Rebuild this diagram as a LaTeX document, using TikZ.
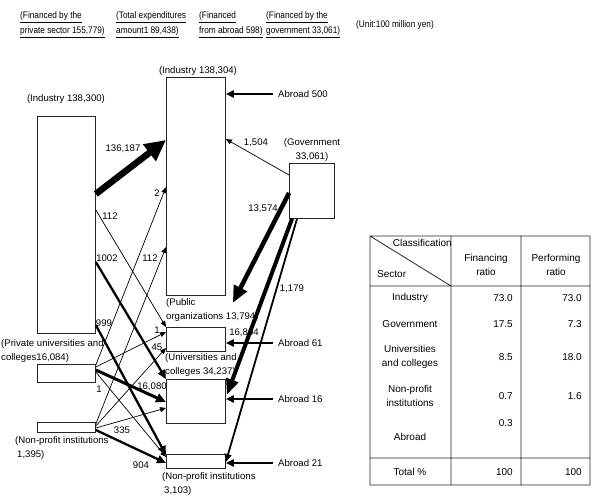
\documentclass[tikz,border=0pt]{standalone}
\usepackage{fontspec}
\setmainfont{Liberation Sans}
\newfontfamily\hdfont{Liberation Sans}[FakeStretch=0.87]
\usetikzlibrary{arrows.meta}
\newcommand\lblfont{\fontsize{9.6}{14.5}\selectfont}
\newcommand\tabfont{\fontsize{10}{14.5}\selectfont}
\newcommand\headfont{\hdfont\fontsize{9.5}{15}\selectfont}
\tikzset{
  box/.style={draw=black!85, line width=0.8pt, inner sep=0, anchor=north west},
  lbl/.style={font=\lblfont, inner sep=0},
  hd/.style={font=\headfont, inner sep=0, align=left, anchor=west},
  tab/.style={font=\tabfont, inner sep=0, align=center},
  thinflow/.style={line width=0.7pt, -{Triangle[length=6pt,width=5pt]}},
  midflow/.style={line width=2.3pt, -{Triangle[length=9pt,width=8pt]}},
  bigflow/.style={line width=4.5pt, -{Triangle[length=17pt,width=14pt]}},
  abflow/.style={line width=1.8pt, -{Triangle[length=8pt,width=7pt]}}
}
\begin{document}
\begin{tikzpicture}[x=1pt, y=-1pt]
  \useasboundingbox (0,0) rectangle (600,503);
  % header
  \node[hd] (h1) at (20,25) {\underline{(Financed by the}\\\underline{private sector 155,779)}};
  \node[hd] (h2) at (116,25) {\underline{(Total expenditures}\\\underline{amount1 89,438)}};
  \node[hd] (h3) at (199,25) {\underline{(Financed}\\\underline{from abroad 598)}};
  \node[hd] (h4) at (266,25) {\underline{(Financed by the}\\\underline{government 33,061)}};
  \node[hd] (unit) at (356,25) {(Unit:100 million yen)};
  % sectors
  \node[box, minimum width=58pt, minimum height=217pt] (indL) at (37,116) {};
  \node[box, minimum width=58pt, minimum height=18pt] (univL) at (37,364) {};
  \node[box, minimum width=58pt, minimum height=10pt] (npoL) at (37,422) {};
  \node[box, minimum width=59pt, minimum height=218pt] (indR) at (166,77) {};
  \node[box, minimum width=59pt, minimum height=24pt] (pubR) at (166,327) {};
  \node[box, minimum width=59pt, minimum height=44pt] (univR) at (166,379) {};
  \node[box, minimum width=59pt, minimum height=14pt] (npoR) at (166,454) {};
  \node[box, minimum width=45pt, minimum height=55pt] (gov) at (289,163) {};
  \node[lbl] (tIndL) at (66,99) {(Industry 138,300)};
  \node[lbl] (tIndR) at (198,71) {(Industry 138,304)};
  \node[lbl, align=center] (tGov) at (312,150) {(Government\\33,061)};
  \node[lbl, align=left, anchor=west] (tPub) at (166,310) {(Public\\organizations 13,794)};
  \node[lbl, align=left, anchor=west] (tUnivR) at (165,365) {(Universities and\\colleges 34,237)};
  \node[lbl, align=left, anchor=west] (tNpoR) at (162,484) {(Non-profit institutions\\\hspace*{2pt}3,103)};
  \node[lbl, align=left, anchor=west] (tUnivL) at (1,351) {(Private universities and\\colleges16,084)};
  \node[lbl, align=left, anchor=west] (tNpoL) at (15,448) {(Non-profit institutions\\\hspace*{2pt}1,395)};
  % from abroad
  \foreach \t/\b/\y in {500/indR/94, 61/pubR/343, 16/univR/399, 21/npoR/463} {
    \node[lbl, anchor=west, inner xsep=5pt] (ab\t) at (273,\y) {Abroad \t};
    \draw[abflow] (ab\t.west) -- (\b.east |- ab\t.west);
  }
  % from industry
  \draw[line width=6.5pt, -{Triangle[length=21pt,width=20pt]}] ([yshift=-78pt]indL.north east) -- ([yshift=-63pt]indR.north west);
  \draw[thinflow] ([yshift=-94pt]indL.north east) -- (pubR.north west);
  \draw[midflow] ([yshift=-146pt]indL.north east) -- (univR.north west);
  \draw[midflow] ([yshift=-209pt]indL.north east) -- ([yshift=-1pt]npoR.north west);
  % from private universities
  \draw[thinflow] ([yshift=-1pt]univL.north east) -- ([yshift=-110pt]indR.north west);
  \draw[thinflow] ([yshift=-3pt]univL.north east) -- ([yshift=-5pt]pubR.north west);
  \draw[line width=3pt, -{Triangle[length=10pt,width=9pt]}] ([yshift=-6pt]univL.north east) -- ([yshift=-23pt]univR.north west);
  \draw[thinflow] ([yshift=-8pt]univL.north east) -- ([yshift=-3pt]npoR.north west);
  % from non-profit institutions
  \draw[thinflow] ([yshift=-2pt]npoL.north east) -- ([yshift=-170pt]indR.north west);
  \draw[thinflow] ([yshift=-4pt]npoL.north east) -- ([yshift=-21pt]pubR.north west);
  \draw[thinflow] ([yshift=-6pt]npoL.north east) -- ([yshift=-29pt]univR.north west);
  \draw[midflow] ([yshift=-8pt]npoL.north east) -- ([yshift=-9pt]npoR.north west);
  % from government
  \draw[thinflow] ([yshift=-12pt]gov.north west) -- ([yshift=-62pt]indR.north east);
  \draw[bigflow] ([yshift=-30pt]gov.north west) -- ([xshift=7pt,yshift=24pt]pubR.north east);
  \draw[line width=4pt, -{Triangle[length=16pt,width=12pt]}] ([xshift=3pt]gov.south west) -- ([xshift=1pt,yshift=-16pt]univR.north east);
  \draw[line width=1.8pt, -{Triangle[length=8pt,width=7pt]}] ([xshift=8pt]gov.south west) -- ([yshift=-8pt]npoR.north east);
  % amounts
  \node[lbl] (v136187) at (123,149) {136,187};
  \node[lbl] (v1504) at (256,143) {1,504};
  \node[lbl] (v13574) at (263,209) {13,574};
  \node[lbl] (v2) at (157,193) {2};
  \node[lbl] (v112a) at (110,216) {112};
  \node[lbl] (v1002) at (107,258) {1002};
  \node[lbl] (v112b) at (150,258) {112};
  \node[lbl] (v999) at (104,323) {999};
  \node[lbl] (v1a) at (157,330) {1};
  \node[lbl] (v45) at (157,347) {45};
  \node[lbl] (v1b) at (99,389) {1};
  \node[lbl] (v16080) at (152,387) {16,080};
  \node[lbl] (v335) at (122,430) {335};
  \node[lbl] (v904) at (141,465) {904};
  \node[lbl] (v16804) at (244,333) {16,804};
  \node[lbl] (v1179) at (292,289) {1,179};
  % ratio table
  \draw[black!85, line width=0.8pt] (370,236) rectangle (590,485)
    (451,236) -- (451,485) (521,236) -- (521,485)
    (370,286) -- (590,286) (370,458) -- (590,458) (370,236) -- (451,286);
  \node[tab, anchor=east] (cls) at (452,243) {Classification};
  \node[tab, anchor=west] (sec) at (377,274) {Sector};
  \node[tab] (fin) at (486,265) {Financing\\ratio};
  \node[tab] (perf) at (556,265) {Performing\\ratio};
  \foreach \n/\y/\f/\p [count=\i] in {Industry/298/73.0/73.0, Government/324/17.5/7.3,
      {Universities\\and colleges}/357/8.5/18.0, {Non-profit\\institutions}/396/0.7/1.6, Total \%/472/100/100} {
    \node[tab] (row\i) at (410,\y) {\n};
    \node[tab, anchor=east] (fin\i) at (513,\y) {\f};
    \node[tab, anchor=east] (perf\i) at (582,\y) {\p};
  }
  \node[tab] (rowab) at (410,437) {Abroad};
  \node[tab, anchor=east] (finab) at (513,423) {0.3};
\end{tikzpicture}
\end{document}
